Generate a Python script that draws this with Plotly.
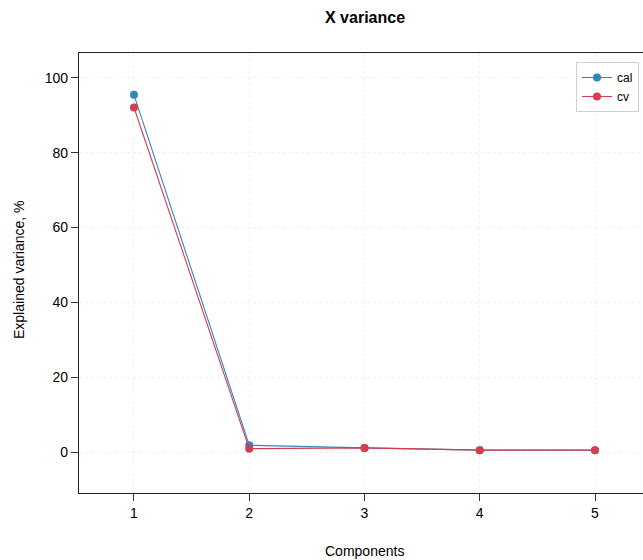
import plotly.graph_objects as go

components = [1, 2, 3, 4, 5]
cal = [95.5, 1.8, 1.1, 0.5, 0.5]
cv = [92.1, 0.9, 1.1, 0.5, 0.5]
x_ticks = [1, 2, 3, 4, 5]
y_ticks = [0, 20, 40, 60, 80, 100]

BLUE = "#3288BD"
RED = "#D53E4F"
FONT = "Liberation Sans, Arial, Helvetica, sans-serif"

W, H = 643, 560
L, R, T, B = 79, 0, 53, 560 - 493
plot_w = W - L - R
plot_h = H - T - B


def px_x(p):
    return (p - L) / plot_w


def px_y(p):
    return (H - B - p) / plot_h


fig = go.Figure()
fig.add_trace(go.Scatter(x=components, y=cal, mode="lines+markers", name="cal",
                         line=dict(color=BLUE, width=1.1),
                         marker=dict(color=BLUE, size=8)))
fig.add_trace(go.Scatter(x=components, y=cv, mode="lines+markers", name="cv",
                         line=dict(color=RED, width=1.1),
                         marker=dict(color=RED, size=8)))

fig.update_layout(
    width=W, height=H,
    margin=dict(l=L, r=R, t=T, b=B),
    paper_bgcolor="white", plot_bgcolor="white",
    font=dict(family=FONT, size=14, color="#000000"),
    showlegend=True,
    legend=dict(x=px_x(639), y=px_y(62),
                xanchor="right", yanchor="top",
                bordercolor="#d0d0d0", borderwidth=1, bgcolor="white",
                font=dict(size=12), itemwidth=30, tracegroupgap=0),
    xaxis=dict(range=[0.523, 5.4165], tickmode="array", tickvals=x_ticks,
               ticks="outside", ticklen=7, tickcolor="#333", tickwidth=1,
               showline=True, linecolor="#222", linewidth=1.2, mirror=True,
               showgrid=True, gridcolor="#f0f0f0", griddash="dot", gridwidth=1,
               zeroline=False, tickfont=dict(size=14)),
    yaxis=dict(range=[-10.96, 106.68], tickmode="array", tickvals=y_ticks,
               ticks="outside", ticklen=7, tickcolor="#333", tickwidth=1,
               showline=True, linecolor="#222", linewidth=1.2, mirror=False,
               showgrid=True, gridcolor="#f0f0f0", griddash="dot", gridwidth=1,
               zeroline=False, tickfont=dict(size=14)),
    annotations=[
        dict(text="<b>X variance</b>", xref="paper", yref="paper",
             x=px_x(364.5), y=px_y(18),
             xanchor="center", yanchor="middle", showarrow=False,
             font=dict(size=16)),
        dict(text="Components", xref="paper", yref="paper",
             x=px_x(364.5), y=px_y(551),
             xanchor="center", yanchor="middle", showarrow=False,
             font=dict(size=14)),
        dict(text="Explained variance, %", xref="paper", yref="paper",
             x=px_x(19), y=px_y(270), textangle=-90,
             xanchor="center", yanchor="middle", showarrow=False,
             font=dict(size=14)),
    ],
)

fig.write_html(
    "out.html",
    config={"displayModeBar": False},
    post_script="document.body.style.margin='0';document.body.style.overflow='hidden';",
)
